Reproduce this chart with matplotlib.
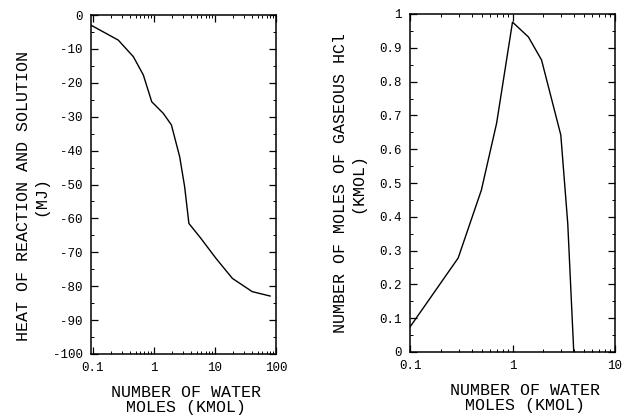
import matplotlib
matplotlib.use("Agg")
import matplotlib.pyplot as plt
from matplotlib.ticker import FixedLocator, FixedFormatter, MultipleLocator, LogLocator, NullFormatter

plt.rcParams["font.family"] = ["Liberation Mono", "DejaVu Sans Mono"]

# Heat of reaction and solution vs. water added
water_heat = [0.093, 0.26, 0.46, 0.67, 0.92, 1.42, 1.93, 2.64, 3.18, 3.74, 5.6, 10.4, 19.3, 40.7, 80.0]
heat_mj = [-3.0, -7.4, -12.3, -17.7, -25.6, -29.0, -32.4, -41.8, -50.6, -61.5, -65.4, -71.8, -77.7, -81.6, -82.9]

# Gaseous HCl remaining vs. water added
water_hcl = [0.1, 0.295, 0.497, 0.70, 1.0, 1.43, 1.92, 2.96, 3.46, 3.96]
hcl_kmol = [0.074, 0.278, 0.479, 0.677, 0.976, 0.932, 0.864, 0.642, 0.38, 0.0]

heat_ticks = [0, -10, -20, -30, -40, -50, -60, -70, -80, -90, -100]
heat_tick_labels = ["0", "-10", "-20", "-30", "-40", "-50", "-60", "-70", "-80", "-90", "-100"]
hcl_ticks = [0, 0.1, 0.2, 0.3, 0.4, 0.5, 0.6, 0.7, 0.8, 0.9, 1.0]
hcl_tick_labels = ["0", "0.1", "0.2", "0.3", "0.4", "0.5", "0.6", "0.7", "0.8", "0.9", "1"]
x_ticks_left = [0.1, 1, 10, 100]
x_labels_left = ["0.1", "1", "10", "100"]
x_ticks_right = [0.1, 1, 10]
x_labels_right = ["0.1", "1", "10"]

xlabel = "NUMBER OF WATER\nMOLES (KMOL)"

fig = plt.figure(figsize=(6.22, 4.18), dpi=100)
ax1 = fig.add_axes([91 / 622, 1 - 354 / 418, (276 - 91) / 622, (354 - 15) / 418])
ax2 = fig.add_axes([410 / 622, 1 - 352 / 418, (615 - 410) / 622, (352 - 14) / 418])


def style(ax, xt, xl, yt, yl, yminor):
    ax.set_xscale("log")
    ax.xaxis.set_major_locator(FixedLocator(xt))
    ax.xaxis.set_major_formatter(FixedFormatter(xl))
    ax.xaxis.set_minor_locator(LogLocator(base=10, subs=range(2, 10), numticks=20))
    ax.xaxis.set_minor_formatter(NullFormatter())
    ax.yaxis.set_major_locator(FixedLocator(yt))
    ax.yaxis.set_major_formatter(FixedFormatter(yl))
    ax.yaxis.set_minor_locator(MultipleLocator(yminor))
    ax.tick_params(which="both", direction="in", top=True, right=True,
                   labelsize=9, colors="black")
    ax.tick_params(which="major", length=5, width=0.9, pad=6)
    ax.tick_params(which="minor", length=2.5, width=0.7)
    for s in ax.spines.values():
        s.set_linewidth(1.1)
    ax.set_xlabel(xlabel, fontsize=12, labelpad=8, linespacing=1.0)


ax1.plot(water_heat, heat_mj, color="black", lw=1.0)
ax1.set_xlim(0.093, 100)
ax1.set_ylim(-100, 0)
style(ax1, x_ticks_left, x_labels_left, heat_ticks, heat_tick_labels, 5)
ax1.set_ylabel("HEAT OF REACTION AND SOLUTION\n(MJ)", fontsize=12, labelpad=3, linespacing=1.2)
ax1.yaxis.label.set_y(0.465)
ax1.xaxis.label.set_x(0.515)

ax2.plot(water_hcl, hcl_kmol, color="black", lw=1.0)
ax2.set_xlim(0.1, 10)
ax2.set_ylim(0, 1)
style(ax2, x_ticks_right, x_labels_right, hcl_ticks, hcl_tick_labels, 0.05)
ax2.set_ylabel("NUMBER OF MOLES OF GASEOUS HCl\n(KMOL)", fontsize=12, labelpad=10, linespacing=1.2)
ax2.xaxis.label.set_x(0.56)

fig.savefig("out.png", dpi=100)
